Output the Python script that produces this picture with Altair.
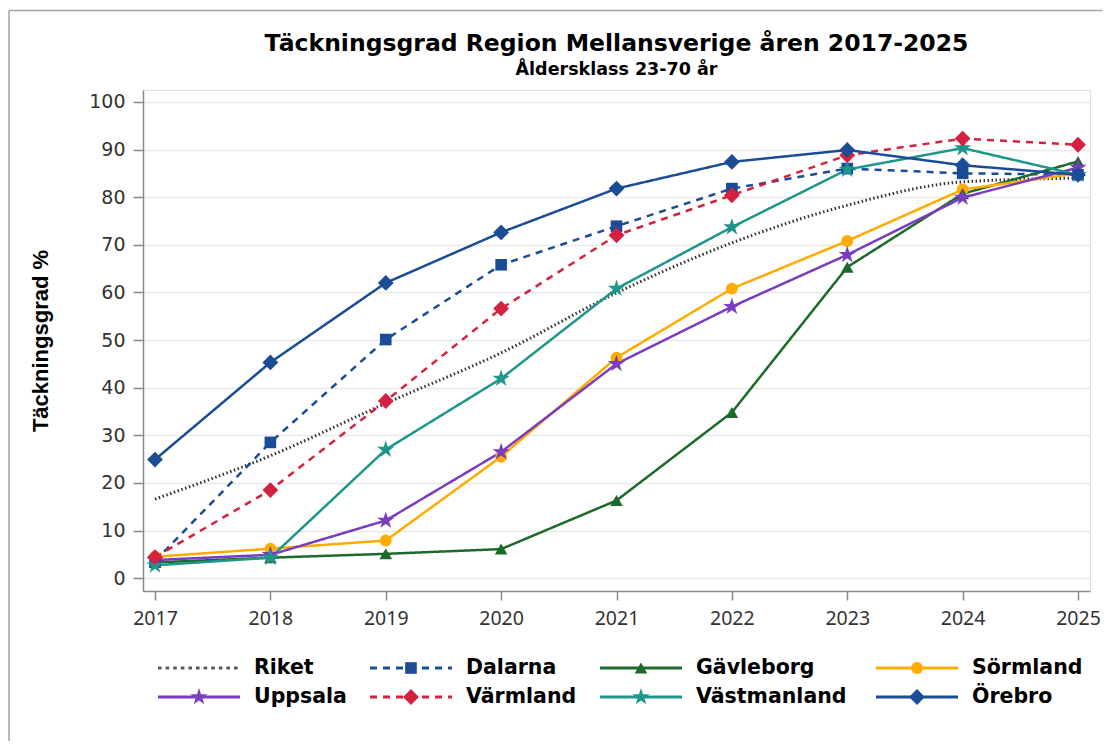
import altair as alt
import pandas as pd

years = [2017, 2018, 2019, 2020, 2021, 2022, 2023, 2024, 2025]
riket = [16.6, 25.7, 36.7, 47.3, 59.9, 70.4, 78.3, 83.2, 84.0]
dalarna = [3.6, 28.5, 50.1, 65.8, 73.9, 81.8, 86.0, 85.0, 84.7]
gavleborg = [3.3, 4.3, 5.1, 6.1, 16.3, 34.8, 65.3, 80.7, 87.5]
sormland = [4.5, 6.2, 7.9, 25.5, 46.3, 60.8, 70.8, 81.6, 85.0]
uppsala = [3.8, 4.9, 12.1, 26.5, 45.0, 57.0, 67.9, 79.9, 86.2]
varmland = [4.4, 18.5, 37.2, 56.6, 72.0, 80.4, 88.8, 92.3, 91.0]
vastmanland = [2.7, 4.3, 27.0, 41.9, 60.8, 73.7, 85.8, 90.3, 84.7]
orebro = [24.9, 45.3, 62.0, 72.6, 81.8, 87.4, 89.9, 86.7, 84.7]

series_names = ["Riket", "Dalarna", "Gävleborg", "Sörmland",
                "Uppsala", "Värmland", "Västmanland", "Örebro"]
series_values = [riket, dalarna, gavleborg, sormland,
                 uppsala, varmland, vastmanland, orebro]
colors = ["#5a5a5a", "#1b4c96", "#1d6a2a", "#ffab00",
          "#7a3dbf", "#d3213f", "#1e968a", "#1b4c96"]
dashes = [[3.6, 4.0], [7, 6], [1, 0], [1, 0], [1, 0], [7, 6], [1, 0], [1, 0]]

STAR_PTS = [(0, -1), (0.2245, -0.309), (0.951, -0.309), (0.363, 0.118),
            (0.588, 0.809), (0, 0.382), (-0.588, 0.809), (-0.363, 0.118),
            (-0.951, -0.309), (-0.2245, -0.309)]
star_shape = "M" + "L".join(f"{a},{b}" for a, b in STAR_PTS) + "Z"

# marker groups: (series, shape, size)
marker_groups = [
    (["Sörmland"], "circle", 140),
    (["Gävleborg"], "triangle-up", 160),
    (["Dalarna"], "square", 135),
    (["Uppsala", "Västmanland"], star_shape, 330),
    (["Värmland", "Örebro"], "diamond", 250),
]

# legend layout (pixel offsets from the plot's top-left corner)
legend_col_x = [15, 227, 457, 733]
legend_row_y = [578, 607]

rows = []
for name, vals in zip(series_names, series_values):
    for yr, v in zip(years, vals):
        rows.append({"series": name, "year": yr, "value": v})
df = pd.DataFrame(rows)

leg_rows = []
for i, name in enumerate(series_names):
    lx = legend_col_x[i % 4]
    ly = legend_row_y[i // 4]
    leg_rows.append({"series": name, "lx": lx, "lx2": lx + 82, "mx": lx + 41,
                     "tx": lx + 96, "ly": ly})
ldf = pd.DataFrame(leg_rows)

# ---------- scales / axes ----------
x_enc = alt.X(
    "year:Q",
    scale=alt.Scale(domain=[2016.896, 2025.104], nice=False, zero=False),
    axis=alt.Axis(values=years, format="d", grid=False, title=None,
                  tickSize=9, tickColor="#8a8a8a", tickWidth=1.5,
                  domainColor="#8a8a8a", domainWidth=1.5,
                  labelFont="Noto Sans", labelFontSize=19.5, labelColor="#333333",
                  labelPadding=9),
)
y_enc = alt.Y(
    "value:Q",
    scale=alt.Scale(domain=[-2.7, 102.5], nice=False, zero=False),
    axis=alt.Axis(values=list(range(0, 101, 10)), title="Täckningsgrad %",
                  titleFont="Liberation Sans", titleFontSize=22,
                  titleFontWeight="bold", titleColor="black", titlePadding=36,
                  labelFont="DejaVu Sans", labelFontSize=19, labelColor="#333333",
                  labelPadding=8, tickSize=10, tickColor="#8a8a8a", tickWidth=1.5,
                  domainColor="#8a8a8a", domainWidth=1.5,
                  gridColor="#e9e9e9", gridWidth=1.5),
)
cscale = alt.Scale(domain=series_names, range=colors)
dscale = alt.Scale(domain=series_names, range=dashes)

base = alt.Chart(df)

riket_line = base.transform_filter(alt.datum.series == "Riket").mark_line(
    interpolate="monotone", strokeWidth=3, strokeDash=[1.5, 2.5], color="#333333"
).encode(x=x_enc, y=y_enc, detail="series:N")

lines = base.transform_filter(alt.datum.series != "Riket").mark_line(
    strokeWidth=2.5
).encode(
    x=x_enc, y=y_enc,
    color=alt.Color("series:N", scale=cscale, legend=None),
    strokeDash=alt.StrokeDash("series:N", scale=dscale, legend=None),
)

point_layers = []
for names, shape, size in marker_groups:
    point_layers.append(base.transform_filter(
        alt.FieldOneOfPredicate(field="series", oneOf=names)
    ).mark_point(shape=shape, filled=True, size=size, opacity=1).encode(
        x=x_enc, y=y_enc,
        color=alt.Color("series:N", scale=cscale, legend=None),
    ))

# ---------- hand-drawn legend (line + marker + label) ----------
lbase = alt.Chart(ldf)


def px_x(f):
    return alt.X(f, scale=None, axis=None)


px_y = alt.Y("ly:Q", scale=None, axis=None)

leg_lines = lbase.mark_rule(strokeWidth=3).encode(
    x=px_x("lx:Q"), x2="lx2:Q", y=px_y,
    color=alt.Color("series:N", scale=cscale, legend=None),
    strokeDash=alt.StrokeDash("series:N", scale=dscale, legend=None),
)
leg_marks = []
for names, shape, size in marker_groups:
    leg_marks.append(lbase.transform_filter(
        alt.FieldOneOfPredicate(field="series", oneOf=names)
    ).mark_point(shape=shape, filled=True, size=size, opacity=1).encode(
        x=px_x("mx:Q"), y=px_y,
        color=alt.Color("series:N", scale=cscale, legend=None),
    ))
leg_text = lbase.mark_text(
    align="left", baseline="middle", font="DejaVu Sans", fontWeight="bold",
    fontSize=20.5, color="black"
).encode(x=px_x("tx:Q"), y=px_y, text="series:N")

# ---------- outer frame (top and left edges visible in the reference) ----------
fdf = pd.DataFrame({"k": [0]})
frame_top = alt.Chart(fdf).mark_rule(color="#a3a3a3", strokeWidth=1.5).encode(
    x=alt.value(-134), x2=alt.value(990), y=alt.value(-79.5))
frame_left = alt.Chart(fdf).mark_rule(color="#a3a3a3", strokeWidth=1.5).encode(
    x=alt.value(-134), y=alt.value(-79.5), y2=alt.value(700))

chart = alt.layer(
    riket_line, lines, *point_layers,
    leg_lines, *leg_marks, leg_text, frame_top, frame_left
).properties(
    width=947, height=501,
    title=alt.TitleParams(
        text="Täckningsgrad Region Mellansverige åren 2017-2025",
        subtitle="Åldersklass 23-70 år",
        font="DejaVu Sans", fontSize=23.5, fontWeight="bold", color="black",
        subtitleFont="DejaVu Sans", subtitleFontSize=17.5,
        subtitleFontWeight="bold", subtitleColor="black",
        anchor="middle", frame="group", offset=15, subtitlePadding=6, dy=84,
    ),
    autosize=alt.AutoSizeParams(type="none"),
    padding={"left": 135, "top": 82, "right": 12, "bottom": 150},
).configure_view(strokeWidth=0).configure(background="white")

chart.save("out.html", embed_options={"renderer": "svg", "actions": False})
